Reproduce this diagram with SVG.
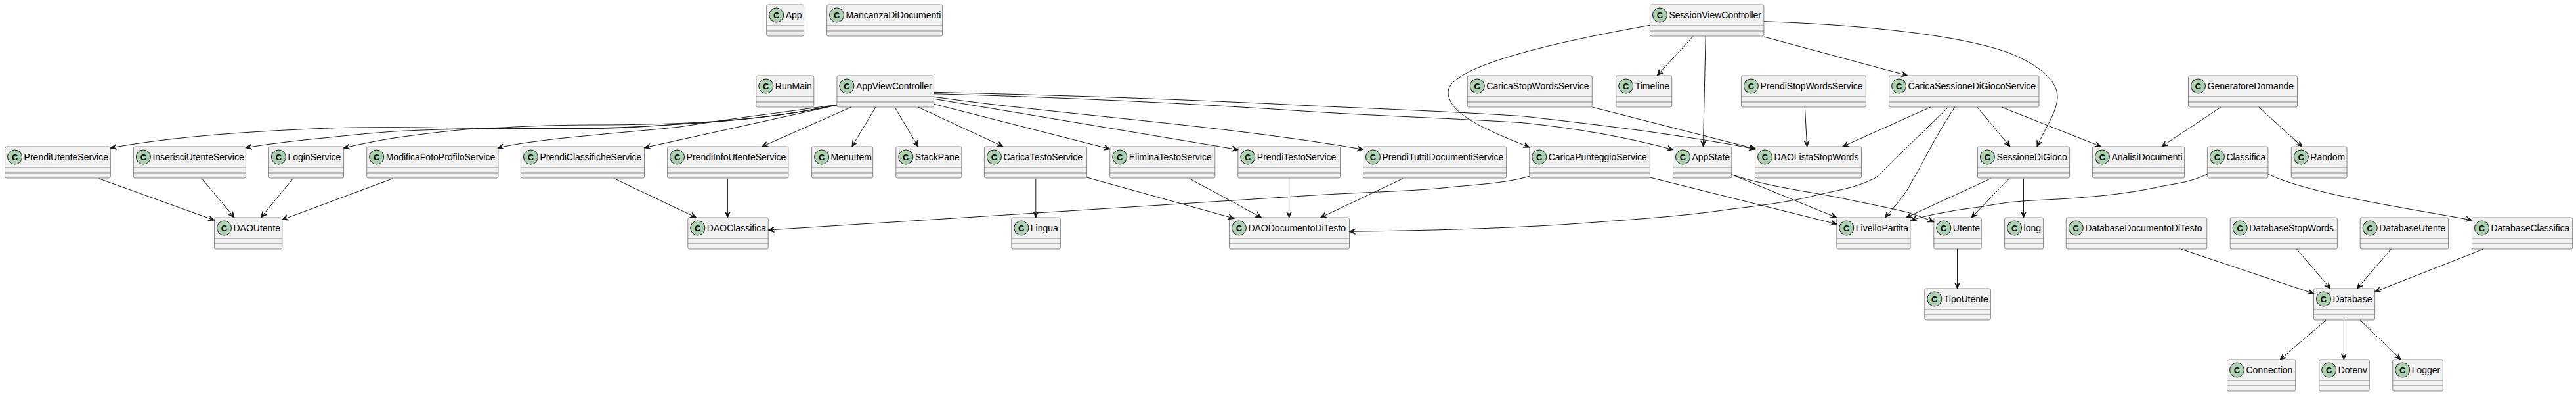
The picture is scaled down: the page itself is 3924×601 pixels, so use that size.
<svg xmlns="http://www.w3.org/2000/svg" width="3924" height="601" viewBox="0 0 3924 601">
<style>
.n rect{fill:#F1F1F1;stroke:#181818;stroke-width:.5}
.n line{stroke:#181818;stroke-width:.5}
.n ellipse{fill:#ADD1B2;stroke:#181818;stroke-width:1}
.n text{font-family:"Liberation Sans",Arial,sans-serif;font-size:14px;fill:#000}
.n text.c{font-weight:bold;font-size:13px;text-anchor:middle;fill:#000}
#connectors path{fill:none;stroke:#181818;stroke-width:1;marker-end:url(#a)}
</style>
<defs><marker id="a" markerUnits="userSpaceOnUse" markerWidth="12" markerHeight="10" refX="10" refY="5" orient="auto" overflow="visible"><path d="M10,5 L1,1 L5,5 L1,9 Z" fill="#181818" stroke="#181818" stroke-width="1"/></marker></defs>
<rect width="3924" height="601" fill="#FFFFFF"/>
<g id="nodes">
<g class="n" id="App"><rect x="1167.7" y="7" width="56.9" height="48" rx="2.5"/><ellipse cx="1182.7" cy="23" rx="11" ry="11"/><text class="c" x="1182.7" y="27.7">C</text><text x="1196.7" y="27.8">App</text><line x1="1167.7" y1="39" x2="1224.6" y2="39"/><line x1="1167.7" y1="47" x2="1224.6" y2="47"/></g>
<g class="n" id="MancanzaDiDocumenti"><rect x="1259.6" y="7" width="176" height="48" rx="2.5"/><ellipse cx="1274.6" cy="23" rx="11" ry="11"/><text class="c" x="1274.6" y="27.7">C</text><text x="1288.6" y="27.8">MancanzaDiDocumenti</text><line x1="1259.6" y1="39" x2="1435.6" y2="39"/><line x1="1259.6" y1="47" x2="1435.6" y2="47"/></g>
<g class="n" id="SessionViewController"><rect x="2513.4" y="7" width="173.5" height="48" rx="2.5"/><ellipse cx="2528.4" cy="23" rx="11" ry="11"/><text class="c" x="2528.4" y="27.7">C</text><text x="2542.4" y="27.8">SessionViewController</text><line x1="2513.4" y1="39" x2="2686.9" y2="39"/><line x1="2513.4" y1="47" x2="2686.9" y2="47"/></g>
<g class="n" id="RunMain"><rect x="1151.8" y="115" width="88" height="48" rx="2.5"/><ellipse cx="1166.8" cy="131" rx="11" ry="11"/><text class="c" x="1166.8" y="135.7">C</text><text x="1180.8" y="135.8">RunMain</text><line x1="1151.8" y1="147" x2="1239.8" y2="147"/><line x1="1151.8" y1="155" x2="1239.8" y2="155"/></g>
<g class="n" id="AppViewController"><rect x="1274.9" y="115" width="147.7" height="48" rx="2.5"/><ellipse cx="1289.9" cy="131" rx="11" ry="11"/><text class="c" x="1289.9" y="135.7">C</text><text x="1303.9" y="135.8">AppViewController</text><line x1="1274.9" y1="147" x2="1422.6" y2="147"/><line x1="1274.9" y1="155" x2="1422.6" y2="155"/></g>
<g class="n" id="CaricaStopWordsService"><rect x="2235.3" y="115" width="190" height="48" rx="2.5"/><ellipse cx="2250.3" cy="131" rx="11" ry="11"/><text class="c" x="2250.3" y="135.7">C</text><text x="2264.3" y="135.8">CaricaStopWordsService</text><line x1="2235.3" y1="147" x2="2425.3" y2="147"/><line x1="2235.3" y1="155" x2="2425.3" y2="155"/></g>
<g class="n" id="Timeline"><rect x="2461.7" y="115" width="85" height="48" rx="2.5"/><ellipse cx="2476.7" cy="131" rx="11" ry="11"/><text class="c" x="2476.7" y="135.7">C</text><text x="2490.7" y="135.8">Timeline</text><line x1="2461.7" y1="147" x2="2546.7" y2="147"/><line x1="2461.7" y1="155" x2="2546.7" y2="155"/></g>
<g class="n" id="PrendiStopWordsService"><rect x="2652.4" y="115" width="190" height="48" rx="2.5"/><ellipse cx="2667.4" cy="131" rx="11" ry="11"/><text class="c" x="2667.4" y="135.7">C</text><text x="2681.4" y="135.8">PrendiStopWordsService</text><line x1="2652.4" y1="147" x2="2842.4" y2="147"/><line x1="2652.4" y1="155" x2="2842.4" y2="155"/></g>
<g class="n" id="CaricaSessioneDiGiocoService"><rect x="2877.6" y="115" width="228.4" height="48" rx="2.5"/><ellipse cx="2892.6" cy="131" rx="11" ry="11"/><text class="c" x="2892.6" y="135.7">C</text><text x="2906.6" y="135.8">CaricaSessioneDiGiocoService</text><line x1="2877.6" y1="147" x2="3106" y2="147"/><line x1="2877.6" y1="155" x2="3106" y2="155"/></g>
<g class="n" id="GeneratoreDomande"><rect x="3333.5" y="115" width="166" height="48" rx="2.5"/><ellipse cx="3348.5" cy="131" rx="11" ry="11"/><text class="c" x="3348.5" y="135.7">C</text><text x="3362.5" y="135.8">GeneratoreDomande</text><line x1="3333.5" y1="147" x2="3499.5" y2="147"/><line x1="3333.5" y1="155" x2="3499.5" y2="155"/></g>
<g class="n" id="PrendiUtenteService"><rect x="7.6" y="223" width="160.8" height="48" rx="2.5"/><ellipse cx="22.6" cy="239" rx="11" ry="11"/><text class="c" x="22.6" y="243.7">C</text><text x="36.6" y="243.8">PrendiUtenteService</text><line x1="7.6" y1="255" x2="168.4" y2="255"/><line x1="7.6" y1="263" x2="168.4" y2="263"/></g>
<g class="n" id="InserisciUtenteService"><rect x="203.4" y="223" width="171" height="48" rx="2.5"/><ellipse cx="218.4" cy="239" rx="11" ry="11"/><text class="c" x="218.4" y="243.7">C</text><text x="232.4" y="243.8">InserisciUtenteService</text><line x1="203.4" y1="255" x2="374.4" y2="255"/><line x1="203.4" y1="263" x2="374.4" y2="263"/></g>
<g class="n" id="LoginService"><rect x="409.4" y="223" width="114.2" height="48" rx="2.5"/><ellipse cx="424.4" cy="239" rx="11" ry="11"/><text class="c" x="424.4" y="243.7">C</text><text x="438.4" y="243.8">LoginService</text><line x1="409.4" y1="255" x2="523.6" y2="255"/><line x1="409.4" y1="263" x2="523.6" y2="263"/></g>
<g class="n" id="ModificaFotoProfiloService"><rect x="558.7" y="223" width="200.2" height="48" rx="2.5"/><ellipse cx="573.7" cy="239" rx="11" ry="11"/><text class="c" x="573.7" y="243.7">C</text><text x="587.7" y="243.8">ModificaFotoProfiloService</text><line x1="558.7" y1="255" x2="758.9" y2="255"/><line x1="558.7" y1="263" x2="758.9" y2="263"/></g>
<g class="n" id="PrendiClassificheService"><rect x="793.4" y="223" width="188.1" height="48" rx="2.5"/><ellipse cx="808.4" cy="239" rx="11" ry="11"/><text class="c" x="808.4" y="243.7">C</text><text x="822.4" y="243.8">PrendiClassificheService</text><line x1="793.4" y1="255" x2="981.5" y2="255"/><line x1="793.4" y1="263" x2="981.5" y2="263"/></g>
<g class="n" id="PrendiInfoUtenteService"><rect x="1016.6" y="223" width="184.3" height="48" rx="2.5"/><ellipse cx="1031.6" cy="239" rx="11" ry="11"/><text class="c" x="1031.6" y="243.7">C</text><text x="1045.6" y="243.8">PrendiInfoUtenteService</text><line x1="1016.6" y1="255" x2="1200.9" y2="255"/><line x1="1016.6" y1="263" x2="1200.9" y2="263"/></g>
<g class="n" id="MenuItem"><rect x="1236.6" y="223" width="93.1" height="48" rx="2.5"/><ellipse cx="1251.6" cy="239" rx="11" ry="11"/><text class="c" x="1251.6" y="243.7">C</text><text x="1265.6" y="243.8">MenuItem</text><line x1="1236.6" y1="255" x2="1329.7" y2="255"/><line x1="1236.6" y1="263" x2="1329.7" y2="263"/></g>
<g class="n" id="StackPane"><rect x="1364.8" y="223" width="100.1" height="48" rx="2.5"/><ellipse cx="1379.8" cy="239" rx="11" ry="11"/><text class="c" x="1379.8" y="243.7">C</text><text x="1393.8" y="243.8">StackPane</text><line x1="1364.8" y1="255" x2="1464.9" y2="255"/><line x1="1364.8" y1="263" x2="1464.9" y2="263"/></g>
<g class="n" id="CaricaTestoService"><rect x="1499.4" y="223" width="156.2" height="48" rx="2.5"/><ellipse cx="1514.4" cy="239" rx="11" ry="11"/><text class="c" x="1514.4" y="243.7">C</text><text x="1528.4" y="243.8">CaricaTestoService</text><line x1="1499.4" y1="255" x2="1655.6" y2="255"/><line x1="1499.4" y1="263" x2="1655.6" y2="263"/></g>
<g class="n" id="EliminaTestoService"><rect x="1690.7" y="223" width="160.1" height="48" rx="2.5"/><ellipse cx="1705.7" cy="239" rx="11" ry="11"/><text class="c" x="1705.7" y="243.7">C</text><text x="1719.7" y="243.8">EliminaTestoService</text><line x1="1690.7" y1="255" x2="1850.8" y2="255"/><line x1="1690.7" y1="263" x2="1850.8" y2="263"/></g>
<g class="n" id="PrendiTestoService"><rect x="1885.8" y="223" width="155.7" height="48" rx="2.5"/><ellipse cx="1900.8" cy="239" rx="11" ry="11"/><text class="c" x="1900.8" y="243.7">C</text><text x="1914.8" y="243.8">PrendiTestoService</text><line x1="1885.8" y1="255" x2="2041.5" y2="255"/><line x1="1885.8" y1="263" x2="2041.5" y2="263"/></g>
<g class="n" id="PrendiTuttiIDocumentiService"><rect x="2076.5" y="223" width="218.1" height="48" rx="2.5"/><ellipse cx="2091.5" cy="239" rx="11" ry="11"/><text class="c" x="2091.5" y="243.7">C</text><text x="2105.5" y="243.8">PrendiTuttiIDocumentiService</text><line x1="2076.5" y1="255" x2="2294.6" y2="255"/><line x1="2076.5" y1="263" x2="2294.6" y2="263"/></g>
<g class="n" id="CaricaPunteggioService"><rect x="2329.7" y="223" width="183.7" height="48" rx="2.5"/><ellipse cx="2344.7" cy="239" rx="11" ry="11"/><text class="c" x="2344.7" y="243.7">C</text><text x="2358.7" y="243.8">CaricaPunteggioService</text><line x1="2329.7" y1="255" x2="2513.4" y2="255"/><line x1="2329.7" y1="263" x2="2513.4" y2="263"/></g>
<g class="n" id="AppState"><rect x="2548.5" y="223" width="89.3" height="48" rx="2.5"/><ellipse cx="2563.5" cy="239" rx="11" ry="11"/><text class="c" x="2563.5" y="243.7">C</text><text x="2577.5" y="243.8">AppState</text><line x1="2548.5" y1="255" x2="2637.8" y2="255"/><line x1="2548.5" y1="263" x2="2637.8" y2="263"/></g>
<g class="n" id="DAOListaStopWords"><rect x="2673.5" y="223" width="162" height="48" rx="2.5"/><ellipse cx="2688.5" cy="239" rx="11" ry="11"/><text class="c" x="2688.5" y="243.7">C</text><text x="2702.5" y="243.8">DAOListaStopWords</text><line x1="2673.5" y1="255" x2="2835.5" y2="255"/><line x1="2673.5" y1="263" x2="2835.5" y2="263"/></g>
<g class="n" id="SessioneDiGioco"><rect x="3012.4" y="223" width="140.2" height="48" rx="2.5"/><ellipse cx="3027.4" cy="239" rx="11" ry="11"/><text class="c" x="3027.4" y="243.7">C</text><text x="3041.4" y="243.8">SessioneDiGioco</text><line x1="3012.4" y1="255" x2="3152.6" y2="255"/><line x1="3012.4" y1="263" x2="3152.6" y2="263"/></g>
<g class="n" id="AnalisiDocumenti"><rect x="3187.4" y="223" width="140.2" height="48" rx="2.5"/><ellipse cx="3202.4" cy="239" rx="11" ry="11"/><text class="c" x="3202.4" y="243.7">C</text><text x="3216.4" y="243.8">AnalisiDocumenti</text><line x1="3187.4" y1="255" x2="3327.6" y2="255"/><line x1="3187.4" y1="263" x2="3327.6" y2="263"/></g>
<g class="n" id="Classifica"><rect x="3362.4" y="223" width="92.5" height="48" rx="2.5"/><ellipse cx="3377.4" cy="239" rx="11" ry="11"/><text class="c" x="3377.4" y="243.7">C</text><text x="3391.4" y="243.8">Classifica</text><line x1="3362.4" y1="255" x2="3454.9" y2="255"/><line x1="3362.4" y1="263" x2="3454.9" y2="263"/></g>
<g class="n" id="Random"><rect x="3490.3" y="223" width="84.8" height="48" rx="2.5"/><ellipse cx="3505.3" cy="239" rx="11" ry="11"/><text class="c" x="3505.3" y="243.7">C</text><text x="3519.3" y="243.8">Random</text><line x1="3490.3" y1="255" x2="3575.1" y2="255"/><line x1="3490.3" y1="263" x2="3575.1" y2="263"/></g>
<g class="n" id="DAOUtente"><rect x="326.5" y="331" width="103.3" height="48" rx="2.5"/><ellipse cx="341.5" cy="347" rx="11" ry="11"/><text class="c" x="341.5" y="351.7">C</text><text x="355.5" y="351.8">DAOUtente</text><line x1="326.5" y1="363" x2="429.8" y2="363"/><line x1="326.5" y1="371" x2="429.8" y2="371"/></g>
<g class="n" id="DAOClassifica"><rect x="1047.8" y="331" width="122.5" height="48" rx="2.5"/><ellipse cx="1062.8" cy="347" rx="11" ry="11"/><text class="c" x="1062.8" y="351.7">C</text><text x="1076.8" y="351.8">DAOClassifica</text><line x1="1047.8" y1="363" x2="1170.3" y2="363"/><line x1="1047.8" y1="371" x2="1170.3" y2="371"/></g>
<g class="n" id="Lingua"><rect x="1540.8" y="331" width="74.6" height="48" rx="2.5"/><ellipse cx="1555.8" cy="347" rx="11" ry="11"/><text class="c" x="1555.8" y="351.7">C</text><text x="1569.8" y="351.8">Lingua</text><line x1="1540.8" y1="363" x2="1615.4" y2="363"/><line x1="1540.8" y1="371" x2="1615.4" y2="371"/></g>
<g class="n" id="DAODocumentoDiTesto"><rect x="1872.4" y="331" width="183.1" height="48" rx="2.5"/><ellipse cx="1887.4" cy="347" rx="11" ry="11"/><text class="c" x="1887.4" y="351.7">C</text><text x="1901.4" y="351.8">DAODocumentoDiTesto</text><line x1="1872.4" y1="363" x2="2055.5" y2="363"/><line x1="1872.4" y1="371" x2="2055.5" y2="371"/></g>
<g class="n" id="LivelloPartita"><rect x="2797.8" y="331" width="112.2" height="48" rx="2.5"/><ellipse cx="2812.8" cy="347" rx="11" ry="11"/><text class="c" x="2812.8" y="351.7">C</text><text x="2826.8" y="351.8">LivelloPartita</text><line x1="2797.8" y1="363" x2="2910" y2="363"/><line x1="2797.8" y1="371" x2="2910" y2="371"/></g>
<g class="n" id="Utente"><rect x="2945.8" y="331" width="72.5" height="48" rx="2.5"/><ellipse cx="2960.8" cy="347" rx="11" ry="11"/><text class="c" x="2960.8" y="351.7">C</text><text x="2974.8" y="351.8">Utente</text><line x1="2945.8" y1="363" x2="3018.3" y2="363"/><line x1="2945.8" y1="371" x2="3018.3" y2="371"/></g>
<g class="n" id="long"><rect x="3053.6" y="331" width="59" height="48" rx="2.5"/><ellipse cx="3068.6" cy="347" rx="11" ry="11"/><text class="c" x="3068.6" y="351.7">C</text><text x="3082.6" y="351.8">long</text><line x1="3053.6" y1="363" x2="3112.6" y2="363"/><line x1="3053.6" y1="371" x2="3112.6" y2="371"/></g>
<g class="n" id="DatabaseDocumentoDiTesto"><rect x="3147.3" y="331" width="214.5" height="48" rx="2.5"/><ellipse cx="3162.3" cy="347" rx="11" ry="11"/><text class="c" x="3162.3" y="351.7">C</text><text x="3176.3" y="351.8">DatabaseDocumentoDiTesto</text><line x1="3147.3" y1="363" x2="3361.8" y2="363"/><line x1="3147.3" y1="371" x2="3361.8" y2="371"/></g>
<g class="n" id="DatabaseStopWords"><rect x="3397.2" y="331" width="163.2" height="48" rx="2.5"/><ellipse cx="3412.2" cy="347" rx="11" ry="11"/><text class="c" x="3412.2" y="351.7">C</text><text x="3426.2" y="351.8">DatabaseStopWords</text><line x1="3397.2" y1="363" x2="3560.4" y2="363"/><line x1="3397.2" y1="371" x2="3560.4" y2="371"/></g>
<g class="n" id="DatabaseUtente"><rect x="3595.2" y="331" width="134.3" height="48" rx="2.5"/><ellipse cx="3610.2" cy="347" rx="11" ry="11"/><text class="c" x="3610.2" y="351.7">C</text><text x="3624.2" y="351.8">DatabaseUtente</text><line x1="3595.2" y1="363" x2="3729.5" y2="363"/><line x1="3595.2" y1="371" x2="3729.5" y2="371"/></g>
<g class="n" id="DatabaseClassifica"><rect x="3765.5" y="331" width="153.2" height="48" rx="2.5"/><ellipse cx="3780.5" cy="347" rx="11" ry="11"/><text class="c" x="3780.5" y="351.7">C</text><text x="3794.5" y="351.8">DatabaseClassifica</text><line x1="3765.5" y1="363" x2="3918.7" y2="363"/><line x1="3765.5" y1="371" x2="3918.7" y2="371"/></g>
<g class="n" id="TipoUtente"><rect x="2931.8" y="439" width="100.6" height="48" rx="2.5"/><ellipse cx="2946.8" cy="455" rx="11" ry="11"/><text class="c" x="2946.8" y="459.7">C</text><text x="2960.8" y="459.8">TipoUtente</text><line x1="2931.8" y1="471" x2="3032.4" y2="471"/><line x1="2931.8" y1="479" x2="3032.4" y2="479"/></g>
<g class="n" id="Database"><rect x="3524.5" y="439" width="93.1" height="48" rx="2.5"/><ellipse cx="3539.5" cy="455" rx="11" ry="11"/><text class="c" x="3539.5" y="459.7">C</text><text x="3553.5" y="459.8">Database</text><line x1="3524.5" y1="471" x2="3617.6" y2="471"/><line x1="3524.5" y1="479" x2="3617.6" y2="479"/></g>
<g class="n" id="Connection"><rect x="3392.5" y="547" width="104.3" height="48" rx="2.5"/><ellipse cx="3407.5" cy="563" rx="11" ry="11"/><text class="c" x="3407.5" y="567.7">C</text><text x="3421.5" y="567.8">Connection</text><line x1="3392.5" y1="579" x2="3496.8" y2="579"/><line x1="3392.5" y1="587" x2="3496.8" y2="587"/></g>
<g class="n" id="Dotenv"><rect x="3532.7" y="547" width="76.6" height="48" rx="2.5"/><ellipse cx="3547.7" cy="563" rx="11" ry="11"/><text class="c" x="3547.7" y="567.7">C</text><text x="3561.7" y="567.8">Dotenv</text><line x1="3532.7" y1="579" x2="3609.3" y2="579"/><line x1="3532.7" y1="587" x2="3609.3" y2="587"/></g>
<g class="n" id="Logger"><rect x="3644.7" y="547" width="76.6" height="48" rx="2.5"/><ellipse cx="3659.7" cy="563" rx="11" ry="11"/><text class="c" x="3659.7" y="567.7">C</text><text x="3673.7" y="567.8">Logger</text><line x1="3644.7" y1="579" x2="3721.3" y2="579"/><line x1="3644.7" y1="587" x2="3721.3" y2="587"/></g>
</g>
<g id="connectors">
<path d="M1275,159.3 C1200,176 1120,184 1033,189 C990,192 950,195 910,195.5 C870,195.5 830,195.5 800,195.5 C770,195.5 735,195.3 700,195 C665,194.5 635,193.7 600,193.7 C560,193.7 530,194 500,195 C380,200 270,207 168.4,225"/>
<path d="M1275,159.3 C1200,176 1120,184 1033,189 C990,192 950,194 910,194.7 C870,195 830,195 800,195 C765,195.3 740,195.5 713,196 C670,197 635,198 600,200 C560,203 530,206 500,209.3 C460,213 415,218 374.4,224.7"/>
<path d="M1275,159.3 C1200,176 1120,184 1033,187.7 C990,189 950,190 910,190 C880,190 855,190.5 833,191 C810,192 790,192.5 767,194 C745,194.8 730,195.5 713,196.7 C675,200 635,205 600,210 C575,214 550,219 523.6,225"/>
<path d="M1275,159.3 C1240,164 1205,169 1167,174 C1120,180 1075,187 1033,193.3 C990,198 950,201 910,205 C885,207.5 860,209.5 833,213 C805,216.5 780,220 758.3,225"/>
<path d="M1275,160 L981.7,224.7"/>
<path d="M1296.6,163 L1160.7,223"/>
<path d="M1334,163 L1297.8,223"/>
<path d="M1362.9,163 L1398.6,223"/>
<path d="M1398.6,163 L1528,223"/>
<path d="M1422.8,158.3 L1690.7,226.7"/>
<path d="M1422.8,150.3 L1885.8,227.7"/>
<path d="M1422.8,147.3 C1620,175 1860,190 2076.5,227.3"/>
<path d="M1422.8,142.7 C1620,148 1810,157 2000,170 C2110,177 2215,180 2319,186.7 C2400,195 2475,208 2548.5,227.7"/>
<path d="M1422.8,140.3 C1620,145 1810,151 2000,161 C2110,166 2215,170 2319,176.7 C2385,184 2450,192 2510,200 C2565,208 2620,216 2673.5,226.7"/>
<path d="M2513.4,38.3 C2380,62 2206,100 2206,140 C2206,175 2270,200 2329.7,224"/>
<path d="M2579,55.3 L2524.2,115"/>
<path d="M2598.2,55.3 L2594.4,223"/>
<path d="M2686.9,56 L2905.6,115"/>
<path d="M2686.9,32.7 C2850,38 2990,55 3059,80 C3110,100 3134,125 3134,147 C3134,170 3115,195 3103,223"/>
<path d="M2425.4,163 L2674.7,226.7"/>
<path d="M2749.4,163 L2752.6,223"/>
<path d="M2940.7,163 L2806.8,223"/>
<path d="M3011.8,163 L3061.9,223"/>
<path d="M3049,163 L3200.4,223"/>
<path d="M2968,163 L2868,260 C2863,265 2860,269 2855,271.7 C2842,278 2828,283 2813,286.7 C2790,292 2770,296 2759,299 C2720,308 2680,313 2637.8,318 C2560,330 2470,335 2382.7,341.7 C2280,348 2170,351 2055.5,352.3"/>
<path d="M2977.7,163 C2950,205 2930,245 2921.7,260 C2916,270 2912,277 2906.7,286.7 C2897,303 2885,315 2871.7,330.7"/>
<path d="M3383,163 L3292.9,223"/>
<path d="M3440.8,163 L3506.8,223"/>
<path d="M3362.4,265 C3340,276 3318,279 3294.6,283 C3255,292 3215,297 3176.8,300 C3135,304 3095,304 3059,308 C3045,310 3032,312 3020,314.3 C3000,317 2982,319 2963,323 C2945,326 2927,330 2910.7,335.3"/>
<path d="M3454.9,265 C3520,295 3640,312 3765.5,335"/>
<path d="M2329.7,268.3 C2290,280 2240,281 2191,286.7 C2130,292 2060,292.5 1956.6,300 L1170.3,350"/>
<path d="M2513.4,270 L2797.8,341"/>
<path d="M2637.8,265.7 L2797.8,331"/>
<path d="M2637.8,265.7 C2680,280 2730,288 2780,296.7 C2805,301 2825,306 2846.7,310 C2870,315 2890,319 2906.7,323.3 C2920,328 2933,332 2945.7,337.7"/>
<path d="M3032.4,271.7 L2903.7,331"/>
<path d="M3060.7,271.7 L3003,331"/>
<path d="M3082.5,271.7 L3082.5,331"/>
<path d="M2981.5,379 L2981.5,439"/>
<path d="M3322.9,379.3 L3524.5,446.7"/>
<path d="M3498.5,379 L3549.8,439"/>
<path d="M3642.3,379 L3590.5,439"/>
<path d="M3783.1,379 L3617.6,444"/>
<path d="M3543.3,487 L3473.2,547"/>
<path d="M3570.4,487 L3570.4,547"/>
<path d="M3595.2,487 L3657,547"/>
<path d="M150.5,271.7 L326.5,335"/>
<path d="M307.4,271.7 L357,331"/>
<path d="M446.4,271.7 L397.3,331"/>
<path d="M598.2,271.7 L429.8,334.3"/>
<path d="M935.6,271.7 L1060.6,331"/>
<path d="M1108.4,271.7 L1108.4,331"/>
<path d="M1577.8,271.7 L1577.8,331"/>
<path d="M1655.6,270 L1880,332.3"/>
<path d="M1811.9,271.7 L1921.6,331"/>
<path d="M1963.6,271.7 L1963.6,331"/>
<path d="M2137,271.7 L2011.5,331"/>
</g>
</svg>
